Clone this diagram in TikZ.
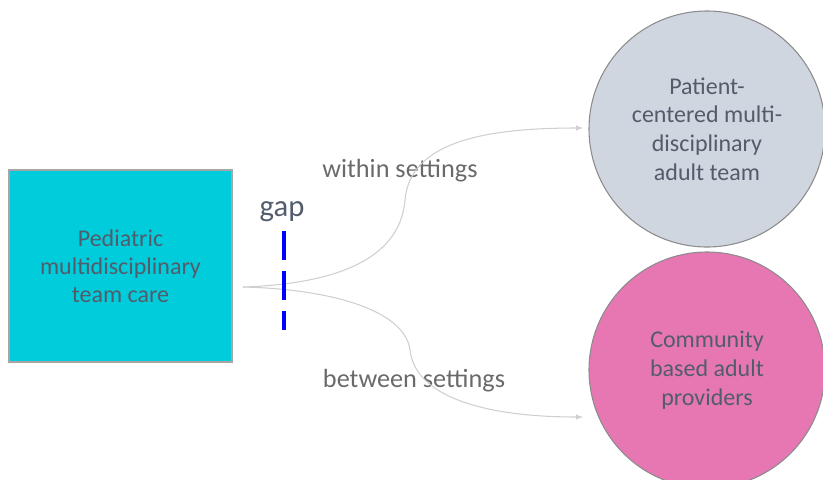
\documentclass[tikz,border=0pt]{standalone}
\usepackage{fontspec}
\setmainfont{Carlito}
\usetikzlibrary{positioning, arrows}

\definecolor{boxcyan}{HTML}{00CCDB}
\definecolor{circgray}{HTML}{D0D6DF}
\definecolor{circpink}{HTML}{E777B3}
\definecolor{slate}{HTML}{525C6B}
\definecolor{lblgray}{HTML}{6A6A6A}
\definecolor{arrgray}{HTML}{CFCFCF}

\begin{document}
\begin{tikzpicture}[x=0.75pt, y=-0.75pt, >=latex,
    careBox/.style={draw=gray!70, line width=1.1pt, fill=boxcyan, minimum width=167.25pt, minimum height=144pt,
        align=center, text=slate, font=\fontsize{18}{21}\selectfont},
    adultCirc/.style={circle, draw=gray!90, line width=0.8pt, minimum size=177pt, inner sep=0pt,
        align=center, text=slate, font=\fontsize{18}{21.6}\selectfont},
    setLabel/.style={text=lblgray, font=\fontsize{19.7}{23}\selectfont},
    flow/.style={->, draw=arrgray, line width=0.8pt}]
    \clip (0,0) rectangle (823,479);
    	\node[careBox] (ped) at (120.5,266) {Pediatric\\multidisciplinary\\team care};
    	\node[adultCirc, fill=circgray] (team) at (707,129) {Patient-\\centered multi-\\disciplinary\\adult team};
    	\node[adultCirc, fill=circpink] (comm) at (707,370) {Community\\based adult\\providers};
    	\coordinate (src) at (243,287);
    	\coordinate (etop) at (583,128);
    	\coordinate (ebot) at (583,417);
    	\node[setLabel] (within) at (400,171) {within settings};
    	\node[setLabel] (between) at (414,381) {between settings};
		\draw[flow] (src) .. controls (330,284) and (400,262) .. (405,200)
				.. controls (410,140) and (490,128) .. (etop);
		\draw[flow] (src) .. controls (330,289) and (405,310) .. (410,350)
				.. controls (415,395) and (480,417) .. (ebot);
    	\node[text=slate, font=\fontsize{23}{27}\selectfont] (gap) at (282,212) {gap};
    	\coordinate (gtop) at (284,231);
    	\coordinate (gbot) at (284,330);
    	\draw[blue, line width=2.3pt, dash pattern=on 21.75pt off 8.25pt] (gtop) -- (gbot);
    \end{tikzpicture}
\end{document}
